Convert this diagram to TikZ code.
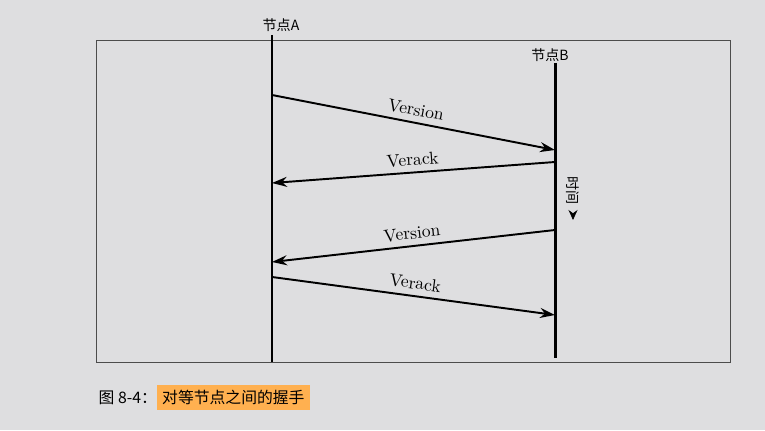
\documentclass[tikz,border=0pt]{standalone}
\usepackage{fontspec}
\newfontfamily\cjk{Noto Sans CJK SC}
\usetikzlibrary{arrows.meta}
\definecolor{paper}{RGB}{222,222,224}
\definecolor{marker}{RGB}{255,176,80}

\begin{document}
\begin{tikzpicture}
    \fill[paper] (0,0) rectangle (15.3,8.6);
    \useasboundingbox (0,0) rectangle (15.3,8.6);
    \draw[black!70,thin] (1.92,1.36) rectangle (14.6,7.8);
    % lifelines
    \coordinate (atop) at (5.44,7.9);
    \coordinate (abot) at (5.44,1.36);
    \coordinate (btop) at (11.1,7.34);
    \coordinate (bbot) at (11.1,1.44);
    \draw[line width=1.7pt] (atop) -- (abot);
    \draw[line width=1.7pt] (btop) -- (bbot);
    \node[font=\cjk\footnotesize] (na) at (5.62,8.1) {节点A};
    \node[font=\cjk\footnotesize] (nb) at (11.0,7.5) {节点B};
    % messages
    \coordinate (a1) at (5.44,6.7);
    \coordinate (b1) at (11.1,5.6);
    \coordinate (b2) at (11.1,5.36);
    \coordinate (a2) at (5.44,4.94);
    \coordinate (b3) at (11.1,4.0);
    \coordinate (a3) at (5.44,3.36);
    \coordinate (a4) at (5.44,3.06);
    \coordinate (b4) at (11.1,2.3);
    \draw[line width=1.1pt,-{Stealth[length=3mm,width=2mm]}] (a1) -- node[midway,above,sloped] {Version} (b1);
    \draw[line width=1.1pt,-{Stealth[length=3mm,width=2mm]}] (b2) -- node[midway,above,sloped] {Verack} (a2);
    \draw[line width=1.1pt,-{Stealth[length=3mm,width=2mm]}] (b3) -- node[midway,above,sloped] {Version} (a3);
    \draw[line width=1.1pt,-{Stealth[length=3mm,width=2mm]}] (a4) -- node[midway,above,sloped] {Verack} (b4);
    % time
    \node[font=\cjk\footnotesize,rotate=-90,inner sep=1pt] (time) at (11.46,4.78) {时间};
    \coordinate (tend) at (11.46,4.2);
    \draw[-{Stealth[length=2mm,width=1.8mm]},shorten <=1.5mm] (time.east) -- (tend);
    % caption
    \node[font=\cjk\small,anchor=west] (cap) at (1.85,0.65) {图 8-4：\colorbox{marker}{对等节点之间的握手}};
\end{tikzpicture}
\end{document}
